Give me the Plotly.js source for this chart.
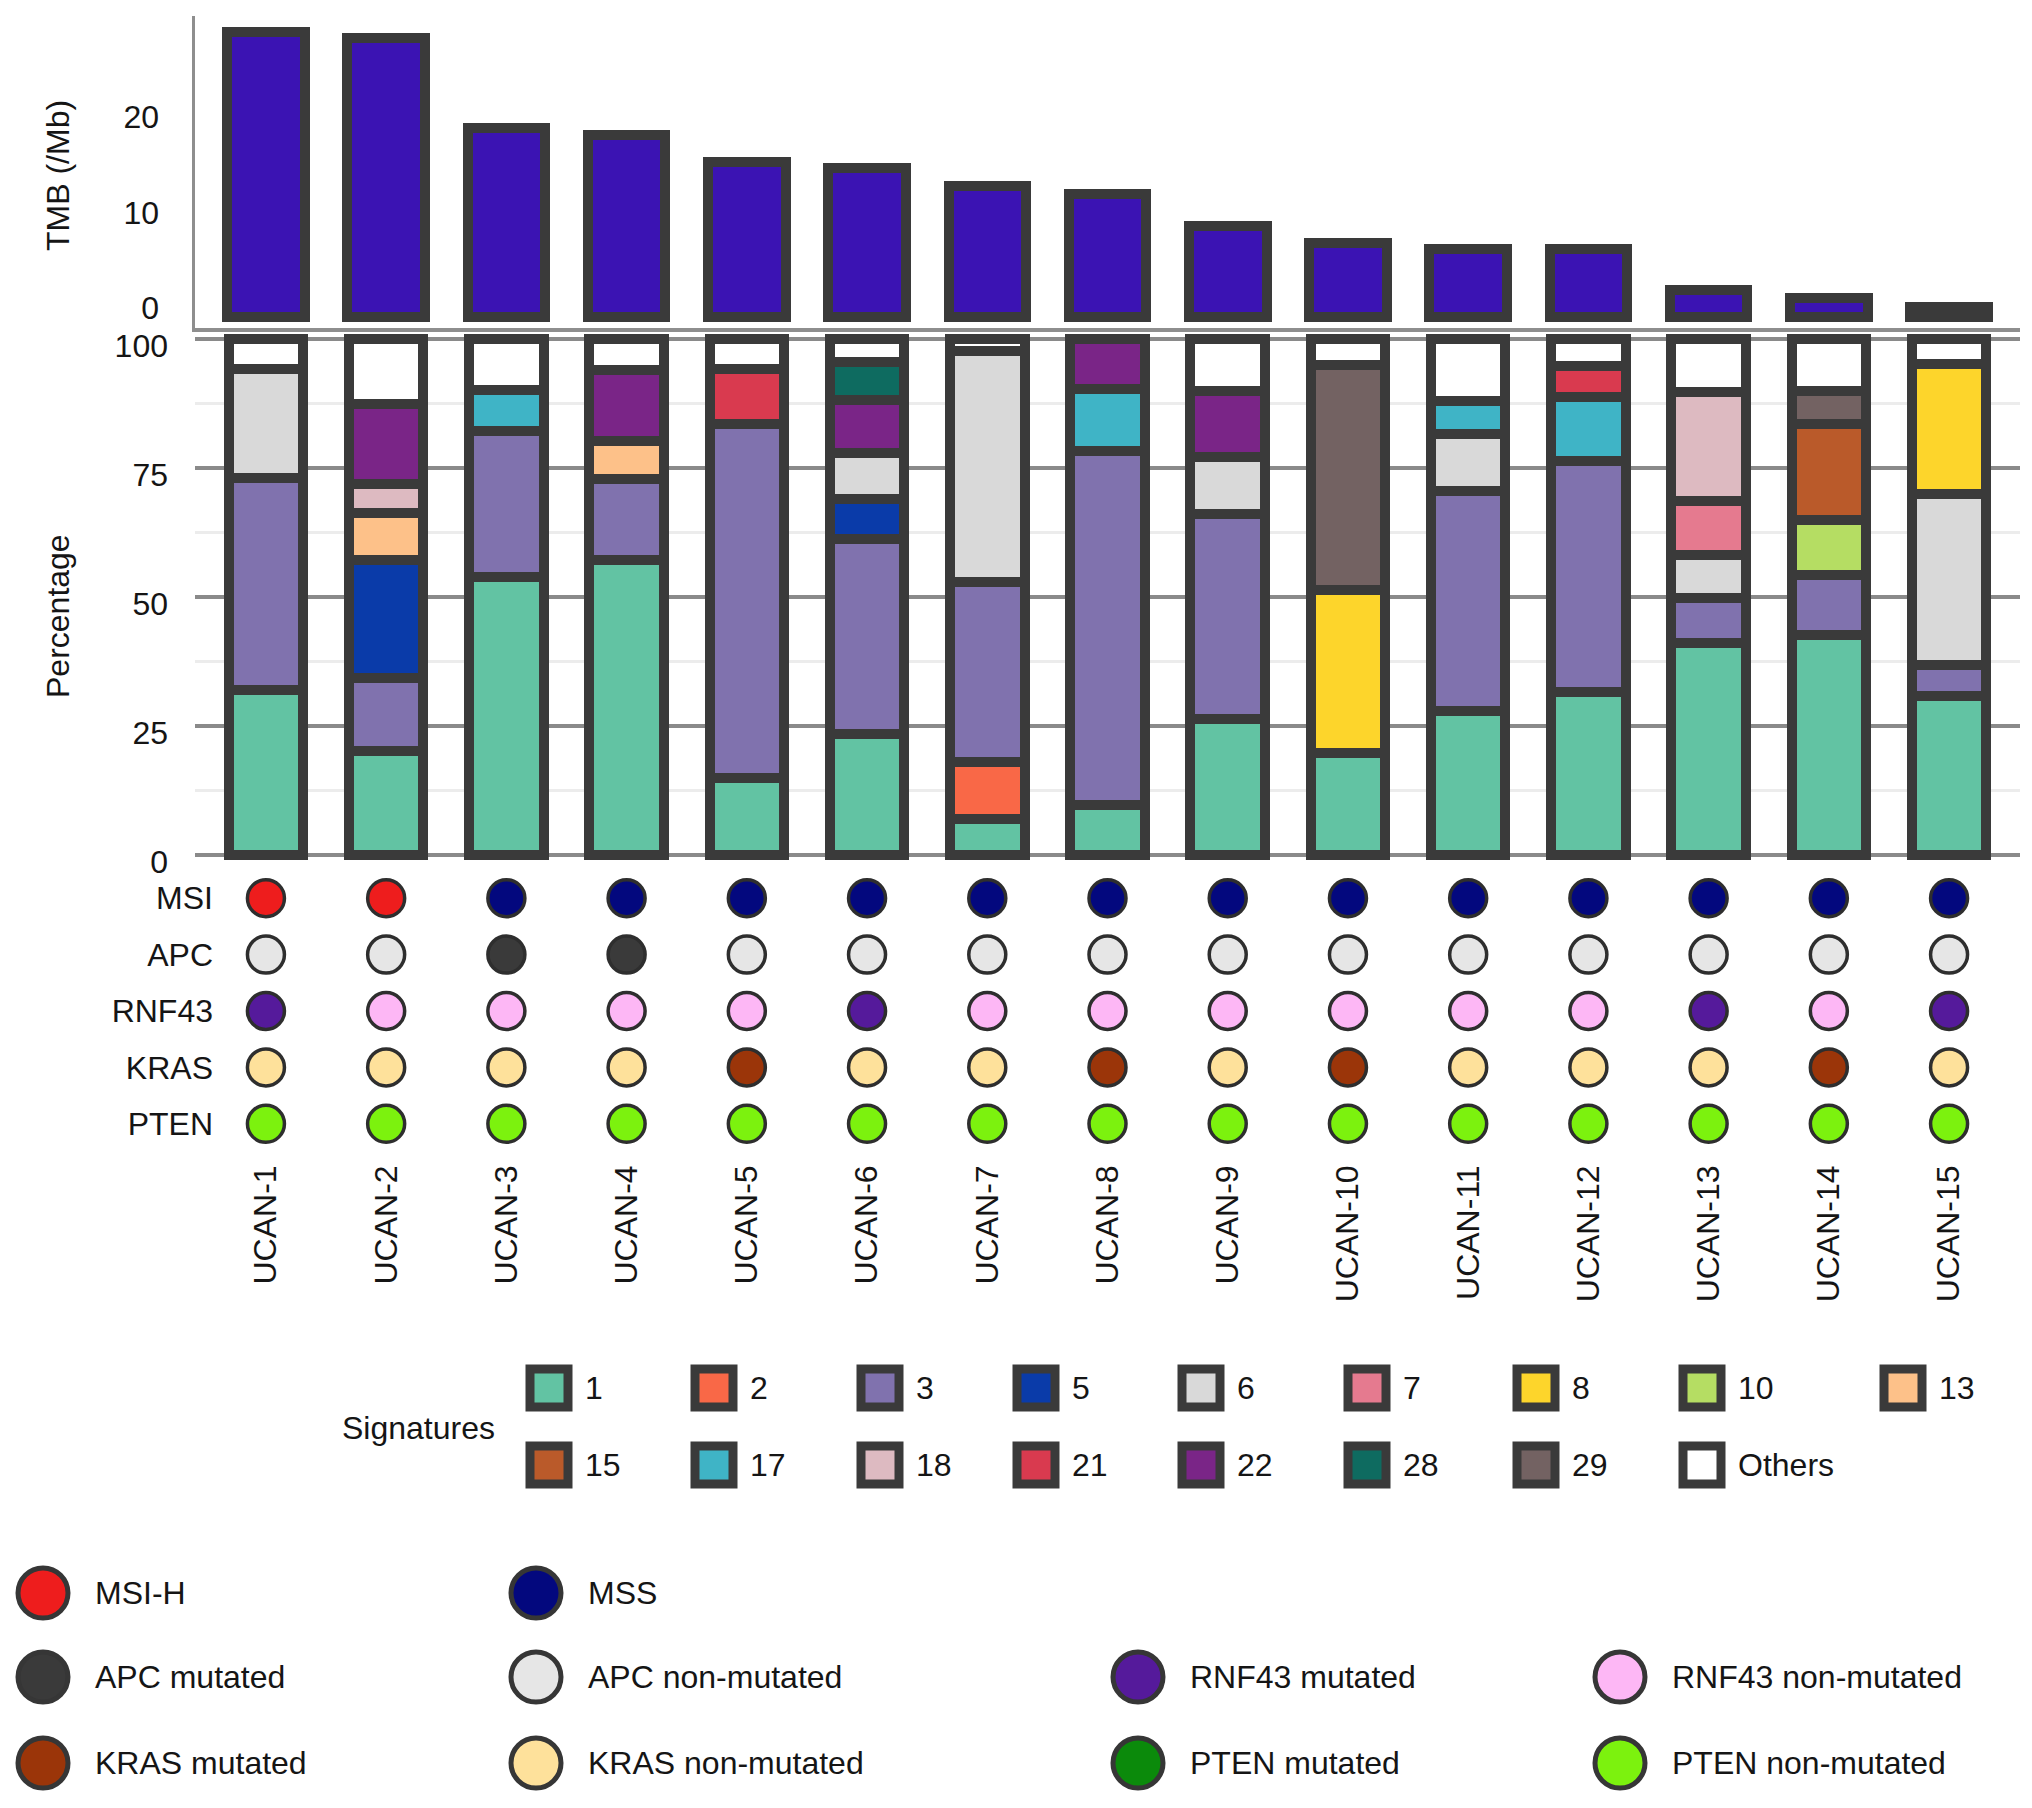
<!DOCTYPE html>
<html><head><meta charset="utf-8">
<script src="https://cdn.plot.ly/plotly-3.0.1.min.js"></script>
<style>html,body{margin:0;padding:0;background:#fff}#chart{width:2032px;height:1808px}</style>
</head><body><div id="chart"></div>
<script>
// ---------------- DATA ----------------
const samples = ['UCAN-1','UCAN-2','UCAN-3','UCAN-4','UCAN-5','UCAN-6','UCAN-7','UCAN-8','UCAN-9','UCAN-10','UCAN-11','UCAN-12','UCAN-13','UCAN-14','UCAN-15'];
const tmb = [29.8, 29.2, 19.8, 19.0, 16.2, 15.6, 13.7, 12.9, 9.5, 7.7, 7.1, 7.1, 2.8, 2.0, 1.0];

const s1  = [32, 20.2, 53.9, 57.2, 15, 23.5, 7, 9.7, 26.3, 19.7, 28, 31.5, 41, 42.7, 30.9];
const s2  = [0, 0, 0, 0, 0, 0, 11, 0, 0, 0, 0, 0, 0, 0, 0];
const s3  = [41, 14.1, 28.3, 15.7, 68.5, 37.7, 34.9, 68.5, 39.7, 0, 42.5, 44.8, 8.9, 11.6, 6];
const s5  = [0, 22.9, 0, 0, 0, 7.8, 0, 0, 0, 0, 0, 0, 0, 0, 0];
const s6  = [21.2, 0, 0, 0, 0, 8.9, 44.8, 0, 11.2, 0, 11, 0, 8.3, 0, 33.1];
const s7  = [0, 0, 0, 0, 0, 0, 0, 0, 0, 0, 0, 0, 10.5, 0, 0];
const s8  = [0, 0, 0, 0, 0, 0, 0, 0, 0, 31.6, 0, 0, 0, 0, 25.2];
const s10 = [0, 0, 0, 0, 0, 0, 0, 0, 0, 0, 0, 0, 0, 10.6, 0];
const s13 = [0, 9.0, 0, 7.4, 0, 0, 0, 0, 0, 0, 0, 0, 0, 0, 0];
const s15 = [0, 0, 0, 0, 0, 0, 0, 0, 0, 0, 0, 0, 0, 18.6, 0];
const s17 = [0, 0, 8.0, 0, 0, 0, 0, 12.1, 0, 0, 6.5, 12.4, 0, 0, 0];
const s18 = [0, 5.7, 0, 0, 0, 0, 0, 0, 0, 0, 0, 0, 21, 0, 0];
const s21 = [0, 0, 0, 0, 10.7, 0, 0, 0, 0, 0, 0, 6, 0, 0, 0];
const s22 = [0, 15.6, 0, 13.6, 0, 10.3, 0, 9.7, 12.8, 0, 0, 0, 0, 0, 0];
const s28 = [0, 0, 0, 0, 0, 7.3, 0, 0, 0, 0, 0, 0, 0, 0, 0];
const s29 = [0, 0, 0, 0, 0, 0, 0, 0, 0, 43.6, 0, 0, 0, 6.5, 0];
const sOthers = [5.8, 12.5, 9.8, 6.1, 5.8, 4.5, 2.3, 0, 10, 5.1, 12, 5.3, 10.3, 10, 4.8];

const sigNames = ['1','2','3','5','6','7','8','10','13','15','17','18','21','22','28','29','Others'];
const sigValues = [s1, s2, s3, s5, s6, s7, s8, s10, s13, s15, s17, s18, s21, s22, s28, s29, sOthers];

const geneRows = ['MSI','APC','RNF43','KRAS','PTEN'];
const msiStatus   = ['MSI-H','MSI-H','MSS','MSS','MSS','MSS','MSS','MSS','MSS','MSS','MSS','MSS','MSS','MSS','MSS'];
const apcStatus   = ['non-mutated','non-mutated','mutated','mutated','non-mutated','non-mutated','non-mutated','non-mutated','non-mutated','non-mutated','non-mutated','non-mutated','non-mutated','non-mutated','non-mutated'];
const rnf43Status = ['mutated','non-mutated','non-mutated','non-mutated','non-mutated','mutated','non-mutated','non-mutated','non-mutated','non-mutated','non-mutated','non-mutated','mutated','non-mutated','mutated'];
const krasStatus  = ['non-mutated','non-mutated','non-mutated','non-mutated','mutated','non-mutated','non-mutated','mutated','non-mutated','mutated','non-mutated','non-mutated','non-mutated','mutated','non-mutated'];
const ptenStatus  = ['non-mutated','non-mutated','non-mutated','non-mutated','non-mutated','non-mutated','non-mutated','non-mutated','non-mutated','non-mutated','non-mutated','non-mutated','non-mutated','non-mutated','non-mutated'];
const geneStatus = [msiStatus, apcStatus, rnf43Status, krasStatus, ptenStatus];

const statusLegendLabels = ['MSI-H','MSS','APC mutated','APC non-mutated','RNF43 mutated','RNF43 non-mutated','KRAS mutated','KRAS non-mutated','PTEN mutated','PTEN non-mutated'];

// ---------------- STYLE ----------------
const sigColors = ['#62C3A3','#F96847','#8072AE','#0A3BA9','#D9D9D9','#E57A8F','#FDD52B','#B5DD63','#FDC189','#BA5A2A','#3FB4C6','#DDBAC1','#D93A4F','#7A2587','#0E6B60','#736262','#FFFFFF'];
const statusColor = {
  'MSI-H':'#EE1D1D', 'MSS':'#03087E',
  'APC mutated':'#3A3A3A', 'APC non-mutated':'#E6E6E6',
  'RNF43 mutated':'#551A9B', 'RNF43 non-mutated':'#FDB7F5',
  'KRAS mutated':'#9B3509', 'KRAS non-mutated':'#FEE19B',
  'PTEN mutated':'#0B8A0B', 'PTEN non-mutated':'#7CF20E'
};
function statusKey(gene, s){ return gene === 'MSI' ? s : gene + ' ' + s; }

const W = 2032, H = 1808;
const px = x => x / W, py = y => 1 - y / H;
const OUT = '#3a3a3a', AX = '#8e8e8e';
const FONT = {family:'"Liberation Sans", Arial, Helvetica, sans-serif', size:32, color:'#151515'};
const XDOM = [px(195), px(2020)], XRANGE = [-0.59, 14.59];

// legend layout (pixel positions)
const sigColX = [549, 714, 880, 1036, 1201, 1367, 1536, 1702, 1903];
const sigRowY = [1388, 1465];
const statusColX = [43, 536, 1138, 1620];
const statusRowY = [1593, 1677, 1763];
const statusCells = [[0,0],[0,1],[1,0],[1,1],[1,2],[1,3],[2,0],[2,1],[2,2],[2,3]];

// ---------------- TRACES ----------------
const traces = [];
traces.push({type:'bar', x:samples, y:tmb, xaxis:'x', yaxis:'y', width:0.645,
  marker:{color:'#3B13B3', line:{color:OUT, width:10}}, hoverinfo:'skip', showlegend:false});

sigNames.forEach((n, k) => {
  traces.push({type:'bar', name:n, x:samples, y:sigValues[k].map(v => v > 0 ? v : null),
    xaxis:'x2', yaxis:'y2', width:0.62,
    marker:{color:sigColors[k], line:{color:OUT, width:10}}, hoverinfo:'skip', showlegend:false});
});

geneRows.forEach((g, r) => {
  traces.push({type:'scatter', mode:'markers', x:samples, y:samples.map(() => g),
    xaxis:'x3', yaxis:'y3', cliponaxis:false,
    marker:{size:37, color:geneStatus[r].map(s => statusColor[statusKey(g, s)]), line:{color:'#2e2e2e', width:3.5}},
    hoverinfo:'skip', showlegend:false});
});

// signature legend keys
traces.push({type:'scatter', mode:'markers', xaxis:'x4', yaxis:'y4', cliponaxis:false,
  x:sigNames.map((_, i) => sigColX[i % 9]), y:sigNames.map((_, i) => sigRowY[Math.floor(i / 9)]),
  marker:{symbol:'square', size:38, color:sigColors, line:{color:OUT, width:9}}, hoverinfo:'skip', showlegend:false});

// status legend keys
traces.push({type:'scatter', mode:'markers', xaxis:'x4', yaxis:'y4', cliponaxis:false,
  x:statusLegendLabels.map((_, i) => statusColX[statusCells[i][1]]),
  y:statusLegendLabels.map((_, i) => statusRowY[statusCells[i][0]]),
  marker:{size:50, color:statusLegendLabels.map(l => statusColor[l]), line:{color:'#363636', width:5}},
  hoverinfo:'skip', showlegend:false});

// ---------------- ANNOTATIONS ----------------
const ann = [];
ann.push({xref:'paper', yref:'paper', x:px(58), y:py(176), text:'TMB (/Mb)', textangle:-90, showarrow:false, xanchor:'center', yanchor:'middle', font:FONT});
ann.push({xref:'paper', yref:'paper', x:px(58), y:py(616), text:'Percentage', textangle:-90, showarrow:false, xanchor:'center', yanchor:'middle', font:FONT});
ann.push({xref:'x4', yref:'y4', x:418, y:1428, text:'Signatures', showarrow:false, xanchor:'center', yanchor:'middle', font:FONT});
sigNames.forEach((n, i) => {
  ann.push({xref:'x4', yref:'y4', x:sigColX[i % 9] + 34, y:sigRowY[Math.floor(i / 9)], text:n, showarrow:false, xanchor:'left', yanchor:'middle', font:FONT});
});
statusLegendLabels.forEach((l, i) => {
  ann.push({xref:'x4', yref:'y4', x:statusColX[statusCells[i][1]] + 50, y:statusRowY[statusCells[i][0]], text:l, showarrow:false, xanchor:'left', yanchor:'middle', font:FONT});
});

// ---------------- LAYOUT ----------------
const layout = {
  width:W, height:H, margin:{l:0, r:0, t:0, b:0},
  paper_bgcolor:'#ffffff', plot_bgcolor:'rgba(0,0,0,0)',
  barmode:'stack', font:FONT, showlegend:false,
  xaxis:{domain:XDOM, anchor:'y', type:'category', categoryarray:samples, range:XRANGE,
    showticklabels:false, ticks:'', showline:true, linecolor:AX, linewidth:3.5, showgrid:false, zeroline:false, fixedrange:true},
  yaxis:{domain:[py(328), py(16)], anchor:'x', range:[-1.15, 31.5], tickmode:'array', tickvals:[0,10,20],
    showline:true, linecolor:AX, linewidth:3.5, showgrid:false, zeroline:false, ticks:'',
    ticklabelstandoff:26, ticklabelshift:-9, tickfont:FONT, fixedrange:true},
  xaxis2:{domain:XDOM, anchor:'y2', type:'category', categoryarray:samples, range:XRANGE,
    showticklabels:false, ticks:'', showline:false, showgrid:false, zeroline:false, fixedrange:true},
  yaxis2:{domain:[py(863), py(331)], anchor:'x2', range:[-1.55, 101.55], tickmode:'array', tickvals:[0,25,50,75,100],
    showgrid:true, gridcolor:'#8a8a8a', gridwidth:3.5, zeroline:false, showline:false, ticks:'',
    ticklabelstandoff:26, ticklabelshift:7, tickfont:FONT, fixedrange:true,
    minor:{tickmode:'array', tickvals:[12.5,37.5,62.5,87.5], showgrid:true, gridcolor:'#ececec', gridwidth:3, ticks:''}},
  xaxis3:{domain:XDOM, anchor:'y3', type:'category', categoryarray:samples, range:XRANGE,
    ticks:'', tickangle:-90, ticklabelstandoff:6, showline:false, showgrid:false, zeroline:false, tickfont:FONT, fixedrange:true},
  yaxis3:{domain:[py(1152), py(870)], anchor:'free', position:px(213), type:'category',
    categoryarray:geneRows.slice().reverse(), range:[-0.5, 4.5],
    showgrid:false, zeroline:false, showline:false, ticks:'', tickfont:FONT, fixedrange:true},
  xaxis4:{domain:[0,1], anchor:'y4', range:[0, W], visible:false, fixedrange:true},
  yaxis4:{domain:[0,1], anchor:'x4', range:[H, 0], visible:false, fixedrange:true},
  annotations:ann
};

Plotly.newPlot('chart', traces, layout, {staticPlot:true, displayModeBar:false});
</script>
</body></html>
